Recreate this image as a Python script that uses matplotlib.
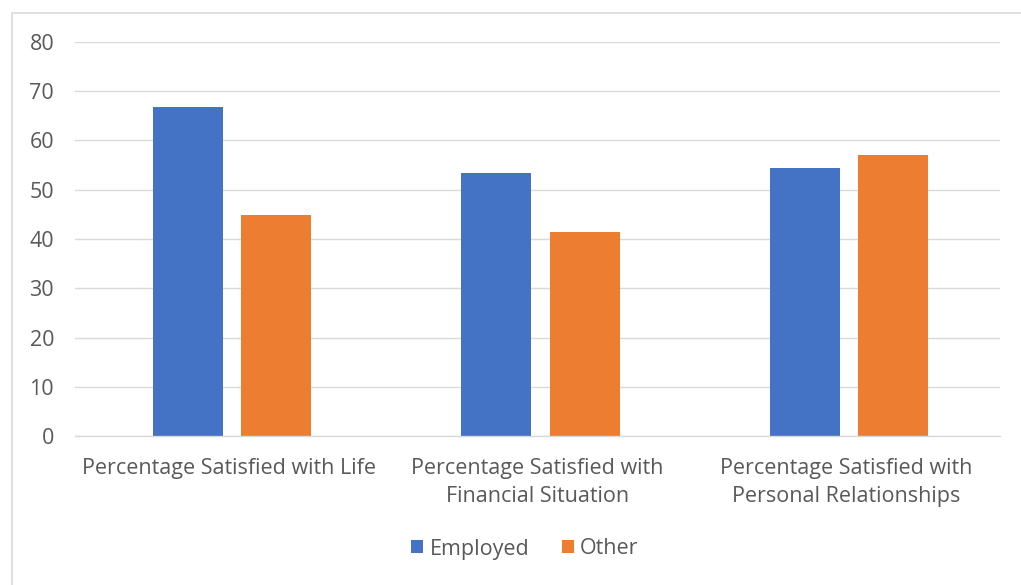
import matplotlib.pyplot as plt
import numpy as np
from matplotlib.patches import Rectangle

categories = ['Percentage Satisfied with Life',
              'Percentage Satisfied with\nFinancial Situation',
              'Percentage Satisfied with\nPersonal Relationships']
employed = [66.8, 53.4, 54.5]
other = [44.8, 41.4, 57.0]
yticks = [0, 10, 20, 30, 40, 50, 60, 70, 80]

plt.rcParams['font.family'] = ['Open Sans', 'DejaVu Sans']
text_col = '#595959'
grid_col = '#d9d9d9'
fs = 15.5

fig = plt.figure(figsize=(10.21, 5.85), dpi=100)
# outer chart frame
fig.patches.append(Rectangle((12 / 1021, -0.1), 1.2, 1 - 13 / 585 + 0.1,
                             transform=fig.transFigure, fill=False,
                             edgecolor=grid_col, linewidth=1.2))

ax = fig.add_axes([75 / 1021, 1 - 436 / 585, 925 / 1021, 394 / 585])
x = np.arange(len(categories)) + 0.01
w = 0.227
off = 0.143
ax.bar(x - off, employed, w, color='#4472C4', label='Employed')
ax.bar(x + off, other, w, color='#ED7D31', label='Other')

ax.set_xlim(-0.5, 2.5)
ax.set_ylim(0, 80)
ax.set_yticks(yticks)
ax.yaxis.grid(True, color=grid_col, linewidth=1)
ax.set_axisbelow(True)
for s in ['top', 'right', 'left']:
    ax.spines[s].set_visible(False)
ax.spines['bottom'].set_color(grid_col)
ax.spines['bottom'].set_linewidth(1)
ax.tick_params(axis='both', length=0, colors=text_col, labelsize=fs)
ax.tick_params(axis='y', pad=15)
ax.tick_params(axis='x', pad=16)
ax.set_xticks(np.arange(len(categories)))
ax.set_xticklabels(categories, linespacing=1.4)
for t in ax.get_xticklabels():
    t.set_verticalalignment('top')

fig.legend(loc='center', bbox_to_anchor=(525 / 1021, 1 - 549 / 585), ncol=2,
           frameon=False, fontsize=fs, labelcolor=text_col,
           handlelength=0.55, handleheight=0.55, handletextpad=0.3,
           columnspacing=1.5)

fig.savefig('out.png', dpi=100)
